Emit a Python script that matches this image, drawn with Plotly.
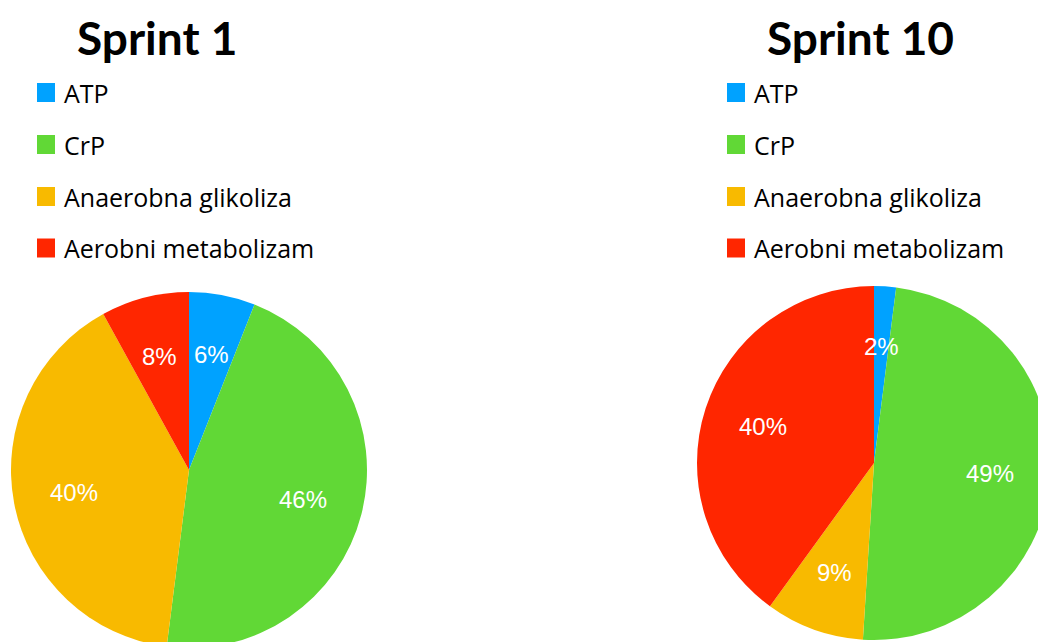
import math
import plotly.graph_objects as go

# ---- data ----
labels = ["ATP", "CrP", "Anaerobna glikoliza", "Aerobni metabolizam"]
sprint1_values = [6, 46, 40, 8]
sprint10_values = [2, 49, 9, 40]
titles = ["Sprint 1", "Sprint 10"]
colors = ["#00A2FF", "#61D836", "#F8BA00", "#FF2600"]

# ---- layout constants (pixels) ----
W, H = 1056, 652
panels = [
    dict(values=sprint1_values, title=titles[0], cx=189, cy=470, r=178, title_x=157, legend_x=37),
    dict(values=sprint10_values, title=titles[1], cx=874, cy=463, r=177, title_x=860, legend_x=727),
]
legend_rows_y = [92.5, 144.5, 196.5, 248]
title_y = 37
label_radius_frac = 0.66


def px(x):
    return x / W


def py(y):
    return 1 - y / H


fig = go.Figure()
annotations = []
shapes = []

for p in panels:
    cx, cy, r = p["cx"], p["cy"], p["r"]
    fig.add_trace(go.Pie(
        labels=labels,
        values=p["values"],
        sort=False,
        direction="clockwise",
        rotation=0,
        marker=dict(colors=colors, line=dict(width=0)),
        textinfo="none",
        hoverinfo="label+percent",
        showlegend=False,
        domain=dict(x=[px(cx - r), px(cx + r)], y=[py(cy + r), py(cy - r)]),
    ))
    # percentage labels placed along each slice's bisector
    total = sum(p["values"])
    cum = 0
    for v in p["values"]:
        mid = (cum + v / 2) / total * 2 * math.pi
        cum += v
        rho = label_radius_frac * r
        lx = cx + rho * math.sin(mid)
        ly = cy - rho * math.cos(mid)
        annotations.append(dict(
            x=px(lx), y=py(ly), xref="paper", yref="paper",
            text=f"{round(v / total * 100)}%", showarrow=False,
            xanchor="center", yanchor="middle",
            font=dict(family="Liberation Sans, Arial", size=24, color="white"),
        ))
    # title
    annotations.append(dict(
        x=px(p["title_x"]), y=py(title_y), xref="paper", yref="paper",
        text=f"<b>{p['title']}</b>", showarrow=False,
        xanchor="center", yanchor="middle",
        font=dict(family="Lato", size=46, color="black"),
    ))
    # legend
    for lab, col, yc in zip(labels, colors, legend_rows_y):
        x0 = p["legend_x"]
        shapes.append(dict(
            type="rect", xref="paper", yref="paper",
            x0=px(x0), x1=px(x0 + 18), y0=py(yc + 9.5), y1=py(yc - 9.5),
            fillcolor=col, line=dict(width=0),
        ))
        annotations.append(dict(
            x=px(x0 + 25), y=py(yc), xref="paper", yref="paper",
            text=lab, showarrow=False, xanchor="left", yanchor="middle",
            font=dict(family="Open Sans", size=25, color="black"),
        ))

fig.update_layout(
    width=W, height=H,
    margin=dict(l=0, r=0, t=0, b=0),
    paper_bgcolor="white",
    plot_bgcolor="white",
    showlegend=False,
    annotations=annotations,
    shapes=shapes,
)

fig.write_html(
    "out.html",
    config={"displayModeBar": False},
    post_script="document.body.style.margin='0';document.body.style.overflow='hidden';document.documentElement.style.overflow='hidden';",
)
